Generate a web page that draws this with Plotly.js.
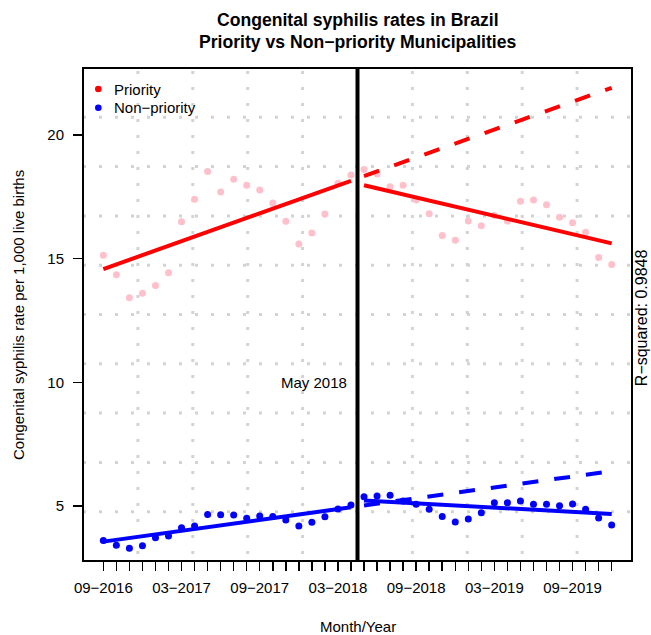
<!DOCTYPE html>
<html>
<head>
<meta charset="utf-8">
<script src="https://cdn.plot.ly/plotly-3.0.1.min.js"></script>
<style>html,body{margin:0;padding:0;background:#fff;}#chart{width:651px;height:635px;}</style>
</head>
<body>
<div id="chart"></div>
<script>
// ---- data ----
const months = ["09-2016","10-2016","11-2016","12-2016","01-2017","02-2017","03-2017","04-2017","05-2017","06-2017",
  "07-2017","08-2017","09-2017","10-2017","11-2017","12-2017","01-2018","02-2018","03-2018","04-2018",
  "05-2018","06-2018","07-2018","08-2018","09-2018","10-2018","11-2018","12-2018","01-2019","02-2019",
  "03-2019","04-2019","05-2019","06-2019","07-2019","08-2019","09-2019","10-2019","11-2019","12-2019"];
const tickLabels = ["09\u22122016","03\u22122017","09\u22122017","03\u22122018","09\u22122018","03\u22122019","09\u22122019"];
const priority = [15.14,14.35,13.42,13.60,13.92,14.43,16.49,17.40,18.52,17.70,
  18.21,17.97,17.78,17.25,16.51,15.59,16.04,16.81,18.05,18.38,
  18.61,18.42,17.91,17.97,17.37,16.82,15.94,15.74,16.52,16.33,
  16.75,16.52,17.32,17.37,17.18,16.67,16.45,16.07,15.05,14.76];
const nonPriority = [3.60,3.41,3.29,3.39,3.72,3.79,4.12,4.19,4.66,4.65,
  4.64,4.50,4.60,4.58,4.43,4.19,4.34,4.57,4.88,5.04,
  5.37,5.40,5.43,5.20,5.07,4.87,4.58,4.35,4.47,4.73,
  5.13,5.13,5.20,5.07,5.07,5.01,5.08,4.87,4.51,4.23];
// fitted segments (endpoint values)
const preMonths = ["09-2016","04-2018"];
const postMonths = ["05-2018","12-2019"];
const priorityPreFit = [14.58, 18.15];
const priorityPostFit = [17.97, 15.62];
const priorityCounterfactual = [18.34, 21.91];
const nonPriorityPreFit = [3.56, 4.95];
const nonPriorityPostFit = [5.22, 4.68];
const nonPriorityCounterfactual = [5.02, 6.41];
const interventionLabel = "May 2018";
const rSquared = "0.9848";

// ---- build ----
const idx = m => months.indexOf(m);
const xs = months.map((m, i) => i);
const FONT = "Liberation Sans, Arial, Helvetica, sans-serif";
const tickvals = xs;
const ticktext = months.map(m => {
  const lab = m.replace("-", "\u2212");
  return tickLabels.indexOf(lab) >= 0 ? lab : "";
});
const breakX = (idx("04-2018") + idx("05-2018")) / 2;

function seg(mArr, vals, color, dash) {
  return {x: mArr.map(idx), y: vals, mode: "lines", type: "scatter", hoverinfo: "skip",
    line: {color: color, width: 4, dash: dash || "solid"}};
}
const traces = [
  {x: xs, y: priority, mode: "markers", type: "scatter", marker: {color: "#FFC0CB", size: 7}},
  {x: xs, y: nonPriority, mode: "markers", type: "scatter", marker: {color: "#0000FF", size: 7}},
  seg(preMonths, priorityPreFit, "#FF0000"),
  seg(postMonths, priorityPostFit, "#FF0000"),
  seg(postMonths, priorityCounterfactual, "#FF0000", "16px,16px"),
  seg(preMonths, nonPriorityPreFit, "#0000FF"),
  seg(postMonths, nonPriorityPostFit, "#0000FF"),
  seg(postMonths, nonPriorityCounterfactual, "#0000FF", "16px,16px")
];

const shapes = [];
for (let k = 1; k < 10; k++) {
  shapes.push({type: "line", xref: "paper", yref: "paper", x0: 0, x1: 1, y0: k/10, y1: k/10, layer: "below",
    line: {color: "#D3D3D3", width: 3, dash: "3px,13px"}});
  shapes.push({type: "line", xref: "paper", yref: "paper", x0: k/10, x1: k/10, y0: 1, y1: 0, layer: "below",
    line: {color: "#D3D3D3", width: 3, dash: "0px,3px,3px,10px"}});
}
shapes.push({type: "line", xref: "x", yref: "paper", x0: breakX, x1: breakX, y0: 0, y1: 1, layer: "above",
  line: {color: "#000", width: 4}});
shapes.push({type: "rect", xref: "paper", yref: "paper", x0: 0, x1: 1, y0: 0, y1: 1, layer: "above",
  line: {color: "#000", width: 2}});
const legendItems = [["Priority", "#FF0000", 0.9574], ["Non\u2212priority", "#0000FF", 0.9195]];
legendItems.forEach(([t, c, yy]) => {
  shapes.push({type: "circle", xref: "paper", yref: "paper", xsizemode: "pixel", ysizemode: "pixel",
    xanchor: 0.0279, yanchor: yy, x0: -3.3, x1: 3.3, y0: -3.3, y1: 3.3, fillcolor: c, line: {width: 0}});
});

const annotations = [
  {text: "<b>Congenital syphilis rates in Brazil</b>", xref: "paper", yref: "paper", x: 0.5, y: 1.0974,
    showarrow: false, font: {family: FONT, size: 17.6, color: "#000"}, xanchor: "center", yanchor: "middle"},
  {text: "<b>Priority vs Non\u2212priority Municipalities</b>", xref: "paper", yref: "paper", x: 0.5, y: 1.0527,
    showarrow: false, font: {family: FONT, size: 17.6, color: "#000"}, xanchor: "center", yanchor: "middle"},
  {text: "Month/Year", xref: "paper", yref: "paper", x: 0.5, y: -0.132, showarrow: false,
    font: {family: FONT, size: 15, color: "#000"}, xanchor: "center", yanchor: "middle"},
  {text: "Congenital syphilis rate per 1,000 live births", xref: "paper", yref: "paper", x: -0.1175, y: 0.5,
    textangle: -90, showarrow: false, font: {family: FONT, size: 15, color: "#000"}, xanchor: "center", yanchor: "middle"},
  {text: "R\u2212squared: " + rSquared, xref: "paper", yref: "paper", x: 1.0177, y: 0.494,
    textangle: -90, showarrow: false, font: {family: FONT, size: 16, color: "#000"}, xanchor: "center", yanchor: "middle"},
  {text: interventionLabel, xref: "x", yref: "y", x: breakX, y: 10, xanchor: "right", yanchor: "middle", xshift: -9,
    showarrow: false, font: {family: FONT, size: 15, color: "#000"}}
];
legendItems.forEach(([t, c, yy]) => {
  annotations.push({text: t, xref: "paper", yref: "paper", x: 0.052, y: yy, xanchor: "left", yanchor: "middle",
    showarrow: false, font: {family: FONT, size: 15, color: "#000"}});
});

const layout = {
  width: 651, height: 635,
  margin: {l: 83, r: 19, t: 68, b: 74, pad: 0},
  paper_bgcolor: "#fff", plot_bgcolor: "#fff",
  showlegend: false,
  font: {family: FONT, size: 15, color: "#000"},
  xaxis: {range: [-1.56, 40.56], tickvals: tickvals, ticktext: ticktext, ticks: "outside", ticklen: 9,
    tickwidth: 1.5, tickcolor: "#000", showgrid: false, zeroline: false, showline: false,
    tickfont: {family: FONT, size: 15, color: "#000"}, tickangle: 0, ticklabelstandoff: 4},
  yaxis: {range: [2.776, 22.709], tickvals: [5, 10, 15, 20], ticktext: ["5", "10", "15", "20"], ticks: "outside",
    ticklen: 9, tickwidth: 1.5, tickcolor: "#000", showgrid: false, zeroline: false, showline: false,
    tickfont: {family: FONT, size: 15, color: "#000"}, ticklabelstandoff: 6},
  shapes: shapes,
  annotations: annotations
};
Plotly.newPlot("chart", traces, layout, {staticPlot: true, displayModeBar: false});
</script>
</body>
</html>
